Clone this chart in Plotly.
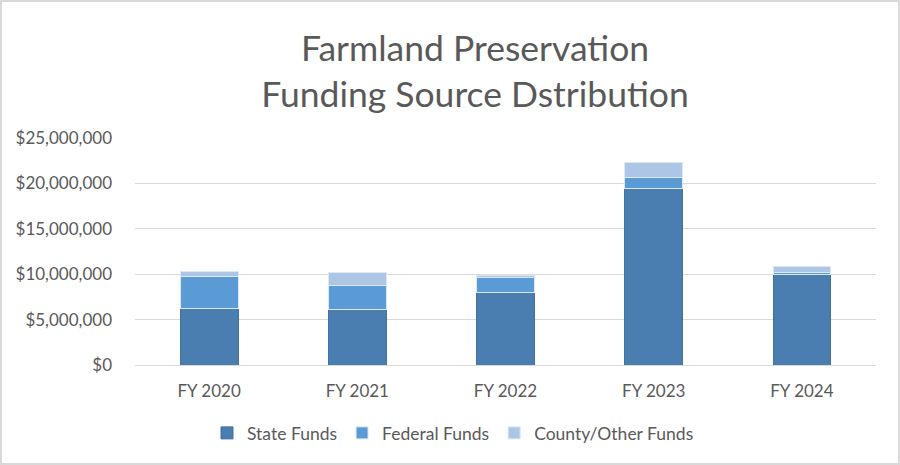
import plotly.graph_objects as go

categories = ["FY 2020", "FY 2021", "FY 2022", "FY 2023", "FY 2024"]
state_funds = [6250000, 6070000, 7980000, 19410000, 10000000]
federal_funds = [3490000, 2640000, 1620000, 1220000, 180000]
county_other_funds = [560000, 1470000, 220000, 1650000, 670000]
y_ticks = [0, 5000000, 10000000, 15000000, 20000000, 25000000]
y_tick_labels = ["$0", "$5,000,000", "$10,000,000", "$15,000,000", "$20,000,000", "$25,000,000"]

FONT = "Lato, 'Open Sans', sans-serif"
GREY = "#595959"

fig = go.Figure()
fig.add_trace(go.Bar(name="State Funds", x=categories, y=state_funds,
                     marker=dict(color="#4a7eb0", line=dict(color="#41719c", width=1))))
fig.add_trace(go.Bar(name="Federal Funds", x=categories, y=federal_funds,
                     marker=dict(color="#5b9bd5", line=dict(color="#dbe8f5", width=1))))
fig.add_trace(go.Bar(name="County/Other Funds", x=categories, y=county_other_funds,
                     marker=dict(color="#adc6e5", line=dict(color="#dbe8f5", width=1))))

L, R, T, B = 135, 24, 138, 100
W, H = 900, 465
pw, ph = W - L - R, H - T - B

fig.update_layout(
    width=W, height=H,
    barmode="stack",
    bargap=0.61,
    paper_bgcolor="white",
    plot_bgcolor="white",
    margin=dict(l=L, r=R, t=T, b=B, autoexpand=False),
    font=dict(family=FONT, color=GREY, size=17),
    title=dict(text="Farmland Preservation<br>Funding Source Dstribution",
               x=475 / W, xanchor="center", xref="container",
               y=1 - 61 / H, yanchor="middle", yref="container",
               font=dict(family=FONT, size=35.5, color=GREY)),
    legend=dict(orientation="h", x=453 / W, xref="container", xanchor="center",
                y=(365 - 433) / ph, yanchor="middle",
                font=dict(size=17.5, color=GREY), itemwidth=30,
                traceorder="normal"),
    showlegend=True,
)
fig.update_xaxes(showgrid=False, showline=False, ticks="", ticklabelstandoff=14,
                 tickfont=dict(size=17, color=GREY))
fig.update_yaxes(range=[0, 25000000], tickvals=y_ticks, ticktext=y_tick_labels,
                 showgrid=True, gridcolor="#d9d9d9", gridwidth=1,
                 zeroline=True, zerolinecolor="#d9d9d9", zerolinewidth=1,
                 showline=False, ticks="", ticklabelstandoff=22,
                 tickfont=dict(size=17, color=GREY))

# outer chart border (pixel positions converted to paper coordinates)
fig.add_shape(type="rect", xref="paper", yref="paper",
              x0=(1 - L) / pw, x1=(W - 1 - L) / pw,
              y0=(T + ph - (H - 1)) / ph, y1=(T + ph - 1) / ph,
              line=dict(color="#d9d9d9", width=2), layer="below")

fig.write_html("out.html", config={"displayModeBar": False},
               post_script="document.body.style.margin='0';document.body.style.overflow='hidden';")
